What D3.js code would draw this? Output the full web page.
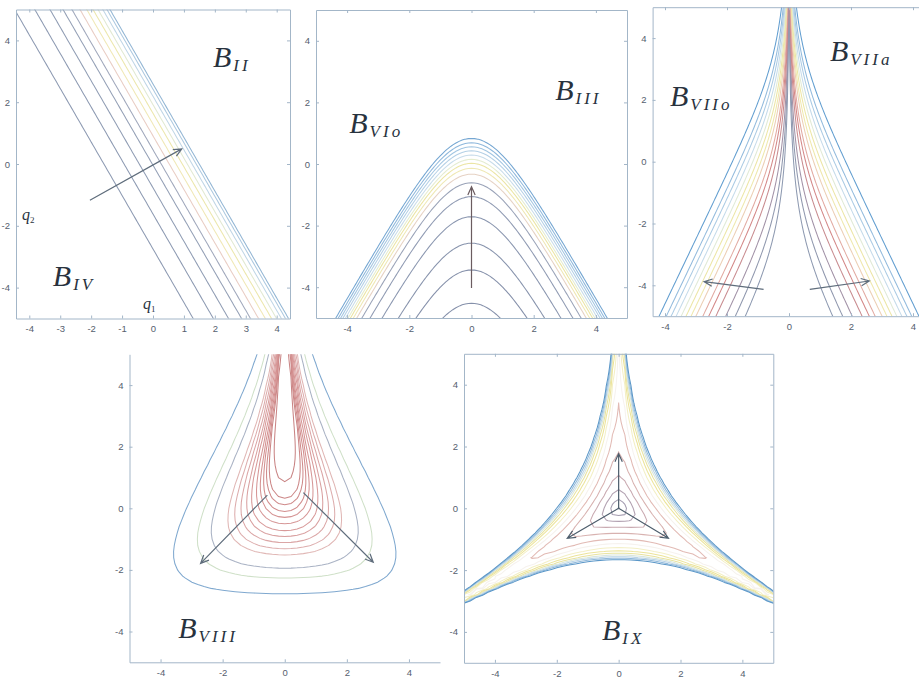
<!DOCTYPE html>
<html>
<head>
<meta charset="utf-8">
<script src="https://cdn.jsdelivr.net/npm/d3@7"></script>
<style>
  body { margin: 0; background: #fff; }
  .tick text { font-family: "Liberation Sans", Arial, sans-serif; font-size: 9.5px; fill: #56606e; }
  .lab { font-family: "Liberation Serif", "DejaVu Serif", serif; font-style: italic; fill: #28323e; }
</style>
</head>
<body>
<div id="fig"></div>
<script>
var W = 919, H = 678;
var lam = 0.2, r3 = Math.sqrt(3);

// contour levels (low potential first)
// B_II: value of q2 + sqrt(3) q1 on each line
var levelsII = [-2.75, -1.62, -0.77, -0.04, 0.46, 0.91, 1.29, 1.64, 1.92, 2.19, 2.42, 2.59];
var colorsII = ["#8d9ab2", "#8d9ab2", "#909db4", "#94a0b6", "#a0a8bc", "#e9cdc4", "#f0e8b6", "#ece7ac", "#e1e9d2", "#c0d6e6", "#adc9e0", "#93b6d4"];
// B_III / B_VIo: height of each arch at q1 = 0
var levelsIII = [-4.52, -3.44, -2.57, -1.71, -1.06, -0.61, -0.33, -0.14, 0.02, 0.15, 0.29, 0.43, 0.56, 0.69, 0.83];
var colorsIII = ["#8590aa", "#8590aa", "#8894ad", "#8b97b0", "#909bb3", "#9aa3b8", "#e6d2c4", "#efe8b4", "#ebe5a4", "#e4ecd0", "#c8dcea", "#b4d0e6", "#a3c6e2", "#8fb8dc", "#74a6d2"];
// B_VII: level of q2 + a ln|sinh(k q1)|
var levelsVII = [-3.45, -2.73, -2.06, -1.38, -0.89, -0.49, -0.02, 0.31, 0.65, 0.98, 1.32, 1.66, 1.99, 2.48];
var colorsVII = ["#8e9ab1", "#9098ae", "#a292a7", "#c98c90", "#d48888", "#e2aaa2", "#eccfb5", "#efe8ad", "#ece6a6", "#e0ead6", "#c5dbea", "#abcbe4", "#93bbdd", "#629ed0"];
// B_VIII: q2 where each contour crosses q1 = 0 from below
var bottomsVIII = [0.86, 0.32, 0.11, -0.11, -0.30, -0.51, -0.73, -0.92, -1.12, -1.32, -1.52, -1.95, -2.27, -2.78];
var colorsVIII = ["#c98484", "#cc8686", "#cf8a8a", "#d28e8e", "#d49292", "#d69696", "#d89a9a", "#d9a0a0", "#dba6a6", "#ddadad", "#e0b6b4", "#a9b2c4", "#cfe0c8", "#7fa8cf"];
// B_IX: q2 where each contour crosses q1 = 0 below the origin
var bottomsIX = [-0.06, -0.25, -0.43, -0.62, -0.81, -1.0, -1.15, -1.28, -1.38, -1.46, -1.52, -1.57, -1.62, -1.67];
var colorsIX = ["#9a9aae", "#a49cb0", "#b3a2b2", "#c9a9b0", "#d8b2b0", "#e2bab4", "#f6f2ee", "#f3efc6", "#ece49a", "#e8e3a0", "#d9e6dc", "#b9d3e6", "#8fb8da", "#5b97c8"];

var ticks5 = [-4, -2, 0, 2, 4];
var ticks9 = [-4, -3, -2, -1, 0, 1, 2, 3, 4];

// arrows [q1, q2, q1, q2]
var arrowsII = [[-2.04, -1.17, 0.93, 0.49]];
var arrowsIII = [[0, -4.03, 0, -0.74]];
var arrowsVII = [[-0.82, -4.13, -2.74, -3.88], [0.67, -4.13, 2.59, -3.86]];
var arrowsVIII = [[-0.56, 0.43, -2.71, -1.79], [0.6, 0.51, 2.85, -1.75]];
var arrowsIX = [[0, 0, 0, 1.77], [0, 0, -1.66, -0.97], [0, 0, 1.61, -0.97]];

// labels [q1, q2, main, subscript]
var labelsII = [[1.94, 3.14, "B", "II"], [-3.24, -3.95, "B", "IV"]];
var labelsIII = [[2.69, 2.08, "B", "III"], [-3.93, 1.0, "B", "VIo"]];
var labelsVII = [[-3.84, 1.8, "B", "VIIo"], [1.32, 3.26, "B", "VIIa"]];
var labelsVIII = [[-3.43, -4.21, "B", "VIII"]];
var labelsIX = [[-0.54, -4.26, "B", "IX"]];
var axisNames = [[-4.24, -1.81, "q", "2"], [-0.32, -4.69, "q", "1"]];

// Bianchi class A potential in (q1, q2) = (beta-, beta+)
function bianchi(n1, n2, n3) {
  return function(q1, q2) {
    var e1 = Math.exp(2 * lam * (q2 + r3 * q1)),
        e2 = Math.exp(2 * lam * (q2 - r3 * q1)),
        e3 = Math.exp(-4 * lam * q2);
    return n1 * n1 * e1 * e1 + n2 * n2 * e2 * e2 + n3 * n3 * e3 * e3
      - 2 * n1 * n2 * e1 * e2 - 2 * n2 * n3 * e2 * e3 - 2 * n1 * n3 * e1 * e3;
  };
}
var aVII = 1.909, kVII = 1.1;

var panels = [
  { x: [16, 290], y: [9.5, 318.5], xd: [-4.43, 4.43], xt: ticks9, box: true, h: 0.1,
    f: function(a, b) { return b + r3 * a; }, th: levelsII, col: colorsII,
    arrows: arrowsII, arrowColor: "#5f6d7c", labels: labelsII, names: axisNames },
  { x: [316, 627], y: [10, 318], xd: [-5, 5], xt: ticks5, box: true, h: 0.1,
    f: function(a, b) { return b + Math.log(Math.cosh(2 * r3 * lam * a)) / (2 * lam); },
    th: levelsIII, col: colorsIII, arrows: arrowsIII, arrowColor: "#6b5c60", labels: labelsIII },
  { x: [652.6, 925.4], y: [7.2, 316.2], xd: [-4.4, 4.4], xt: ticks5, box: true, h: 0.1,
    f: function(a, b) { return Math.exp(b / aVII) * Math.abs(Math.sinh(kVII * a)); },
    th: levelsVII.map(function(c) { return Math.exp(c / aVII); }), col: colorsVII,
    arrows: arrowsVII, arrowColor: "#5f6d7c", labels: labelsVII },
  { x: [129.5, 440], y: [354.3, 662.3], xd: [-5, 5], xt: ticks5, box: false, h: 0.2,
    f: bianchi(1, 1, -1),
    th: bottomsVIII.map(function(b) { return Math.exp(-8 * lam * b) + 4 * Math.exp(-2 * lam * b); }),
    col: colorsVIII, arrows: arrowsVIII, arrowColor: "#5f6d7c", labels: labelsVIII },
  { x: [464, 773.3], y: [353.8, 662.8], xd: [-5, 5], xt: ticks5, box: true, h: 0.2,
    f: bianchi(1, 1, 1),
    th: bottomsIX.map(function(b) { return Math.exp(-8 * lam * b) - 4 * Math.exp(-2 * lam * b); }),
    col: colorsIX, arrows: arrowsIX, arrowColor: "#4d5d6c", labels: labelsIX }
];

var svg = d3.select("#fig").append("svg")
  .attr("width", W).attr("height", H);

function sampleGrid(f, xd, yd, h) {
  var i0 = Math.floor(xd[0] / h) - 1, i1 = Math.ceil(xd[1] / h) + 1,
      j0 = Math.floor(yd[0] / h) - 1, j1 = Math.ceil(yd[1] / h) + 1;
  var nx = i1 - i0 + 1, ny = j1 - j0 + 1, vals = new Array(nx * ny);
  for (var j = 0; j < ny; j++)
    for (var i = 0; i < nx; i++)
      vals[j * nx + i] = f((i0 + i) * h, (j1 - j) * h);
  return {
    nx: nx, ny: ny, vals: vals,
    gx: function(p) { return (i0 + p - 0.5) * h; },
    gy: function(p) { return (j1 - p + 0.5) * h; }
  };
}

function arrowPath(x1, y1, x2, y2) {
  var a = Math.atan2(y2 - y1, x2 - x1), L = 9, s = 0.42;
  return "M" + x1 + "," + y1 + "L" + x2 + "," + y2 +
    "M" + (x2 - L * Math.cos(a - s)) + "," + (y2 - L * Math.sin(a - s)) +
    "L" + x2 + "," + y2 +
    "L" + (x2 - L * Math.cos(a + s)) + "," + (y2 - L * Math.sin(a + s));
}

panels.forEach(function(p, k) {
  var xs = d3.scaleLinear().domain(p.xd).range(p.x);
  var ys = d3.scaleLinear().domain([-5, 5]).range([p.y[1], p.y[0]]);
  var g = svg.append("g");

  svg.append("clipPath").attr("id", "clip" + k)
    .append("rect").attr("x", p.x[0]).attr("y", p.y[0])
    .attr("width", p.x[1] - p.x[0]).attr("height", p.y[1] - p.y[0]);

  // contours
  var grid = sampleGrid(p.f, p.xd, [-5, 5], p.h);
  var cs = d3.contours().size([grid.nx, grid.ny]).thresholds(p.th)(grid.vals);
  var path = d3.geoPath(d3.geoTransform({
    point: function(px, py) { this.stream.point(xs(grid.gx(px)), ys(grid.gy(py))); }
  }));
  g.append("g").attr("clip-path", "url(#clip" + k + ")")
    .selectAll("path").data(cs).enter().append("path")
    .attr("d", path)
    .attr("fill", "none")
    .attr("stroke", function(d, i) { return p.col[i]; })
    .attr("stroke-width", 1.05);

  // axes (matlab style, ticks inside)
  var axColor = "#a3b6c8";
  var fmt = function(d) { return d < 0 ? "-" + (-d) : d; };
  var bottom = g.append("g").attr("transform", "translate(0," + p.y[1] + ")")
    .call(d3.axisBottom(xs).tickValues(p.xt).tickSize(-3).tickSizeOuter(0).tickPadding(7).tickFormat(fmt));
  var left = g.append("g").attr("transform", "translate(" + p.x[0] + ",0)")
    .call(d3.axisLeft(ys).tickValues(ticks5).tickSize(-3).tickSizeOuter(0).tickPadding(6).tickFormat(fmt));
  [bottom, left].forEach(function(a) {
    a.select(".domain").attr("stroke", axColor);
    a.selectAll(".tick line").attr("stroke", axColor);
  });
  if (p.box) {
    var top = g.append("g").attr("transform", "translate(0," + p.y[0] + ")")
      .call(d3.axisTop(xs).tickValues(p.xt).tickSize(-3).tickSizeOuter(0).tickFormat(""));
    var right = g.append("g").attr("transform", "translate(" + p.x[1] + ",0)")
      .call(d3.axisRight(ys).tickValues(ticks5).tickSize(-3).tickSizeOuter(0).tickFormat(""));
    [top, right].forEach(function(a) {
      a.select(".domain").attr("stroke", axColor);
      a.selectAll(".tick line").attr("stroke", axColor);
    });
  }

  // arrows
  g.selectAll("path.arrow").data(p.arrows).enter().append("path")
    .attr("class", "arrow")
    .attr("d", function(d) { return arrowPath(xs(d[0]), ys(d[1]), xs(d[2]), ys(d[3])); })
    .attr("fill", "none")
    .attr("stroke", p.arrowColor)
    .attr("stroke-width", 1.2);

  // region labels
  p.labels.forEach(function(d) {
    var t = g.append("text").attr("class", "lab")
      .attr("x", xs(d[0])).attr("y", ys(d[1]));
    t.append("tspan").attr("font-size", 30).text(d[2]);
    t.append("tspan").attr("font-size", 17).attr("letter-spacing", 3)
      .attr("dy", 4).attr("dx", 2).text(d[3]);
  });
  if (p.names) {
    p.names.forEach(function(d) {
      var t = g.append("text").attr("class", "lab")
        .attr("x", xs(d[0])).attr("y", ys(d[1]));
      t.append("tspan").attr("font-size", 16).text(d[2]);
      t.append("tspan").attr("font-size", 9).attr("dy", 3).attr("font-style", "normal").text(d[3]);
    });
  }
});
</script>
</body>
</html>
